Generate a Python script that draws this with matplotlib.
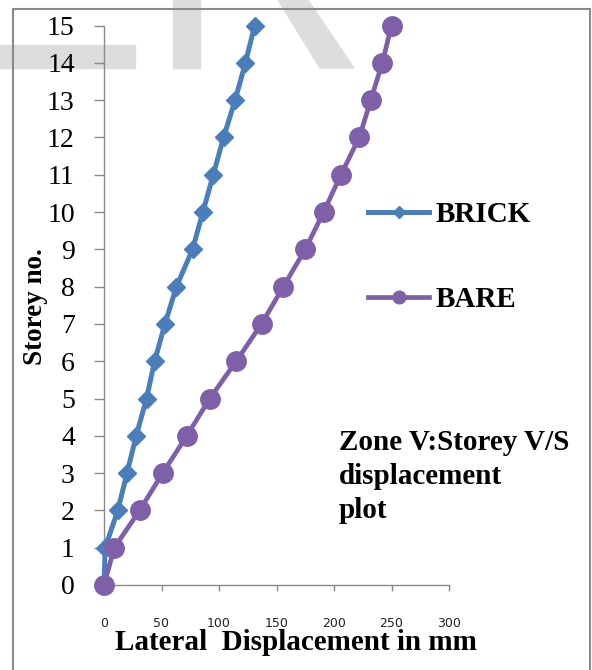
import matplotlib
matplotlib.use('Agg')
from matplotlib import pyplot as plt
from matplotlib.patches import Rectangle, Polygon

storeys = list(range(16))
brick = [0, 1, 12, 20, 28, 37, 44, 53, 63, 77, 86, 95, 104, 114, 123, 131]
bare = [0, 9, 31, 51, 72, 92, 115, 137, 156, 175, 191, 206, 222, 232, 242, 250]
x_ticks = [0, 50, 100, 150, 200, 250, 300]
y_ticks = list(range(16))

W, H = 592, 670
fig = plt.figure(figsize=(W / 100, H / 100), dpi=100)


def px(x, y):
    # pixel position -> figure fraction
    return (x / W, 1 - y / H)


# faint watermark shapes behind the chart
wm = '#dddddd'
for pts in [[(0, 45), (135, 45), (135, 68), (0, 68)],
            [(173, 0), (200, 0), (200, 68), (173, 68)],
            [(278, 0), (308, 0), (354, 68), (320, 68)]]:
    fig.patches.append(Polygon([px(*p) for p in pts], closed=True,
                               transform=fig.transFigure, color=wm, zorder=0))

# outer chart border
fig.patches.append(Rectangle(px(13, 680), (590 - 13) / W, (680 - 9) / H,
                             transform=fig.transFigure, fill=False,
                             edgecolor='#8a8a8a', lw=1.5, zorder=0.5))

ax = fig.add_axes([104 / W, 1 - 585 / H, (449 - 104) / W, (585 - 25.5) / H])
ax.patch.set_alpha(0)
ax.set_zorder(2)

ax.plot(brick, storeys, color='#4a7ebb', lw=3.6, marker='D', ms=9.5,
        label='BRICK', clip_on=False, zorder=3)
ax.plot(bare, storeys, color='#7f5fa8', lw=3.4, marker='o', ms=14,
        label='BARE', clip_on=False, zorder=4)

ax.set_xlim(0, 300)
ax.set_ylim(0, 15)
ax.set_xticks(x_ticks)
ax.set_yticks(y_ticks)

for s in ['top', 'right']:
    ax.spines[s].set_visible(False)
for s in ['left', 'bottom']:
    ax.spines[s].set_color('#8a8a8a')
    ax.spines[s].set_linewidth(1.0)

ax.tick_params(axis='x', colors='#8a8a8a', length=4, width=1, pad=19,
               labelsize=9, labelcolor='#222222')
ax.tick_params(axis='y', colors='#8a8a8a', length=7, width=1, pad=14,
               labelcolor='black')
for lab in ax.get_xticklabels():
    lab.set_family('DejaVu Sans')
for lab in ax.get_yticklabels():
    lab.set_family('Liberation Serif')
    lab.set_fontsize(20)

fig.text(296 / W, 1 - 643 / H, 'Lateral  Displacement in mm',
         family='Liberation Serif', weight='bold', fontsize=21,
         ha='center', va='center', zorder=3)
fig.text(36 / W, 1 - 307 / H, 'Storey no.', family='Liberation Serif',
         weight='bold', fontsize=19.5, rotation=90, ha='center', va='center',
         zorder=3)

fig.text(339 / W, 1 - 429 / H, 'Zone V:Storey V/S\ndisplacement\nplot',
         family='Liberation Serif', weight='bold', fontsize=21,
         ha='left', va='top', linespacing=1.33, zorder=3)

ax.legend(loc='upper left', bbox_to_anchor=px(368, 201),
          bbox_transform=fig.transFigure, frameon=False, borderpad=0,
          borderaxespad=0, handlelength=2.1, handletextpad=0.2,
          labelspacing=2.0, markerscale=0.65,
          prop={'family': 'Liberation Serif', 'weight': 'bold', 'size': 21})

fig.savefig('out.png', dpi=100)
